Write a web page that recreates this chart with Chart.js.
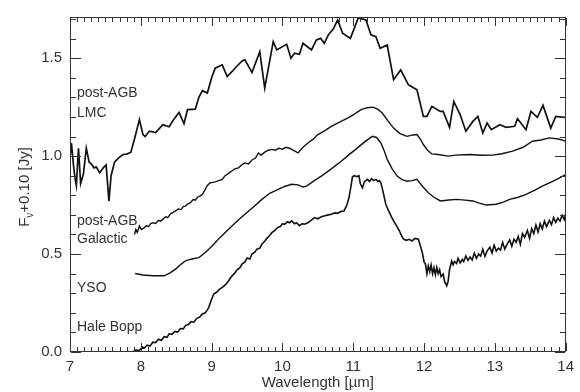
<!DOCTYPE html>
<html>
<head>
<meta charset="utf-8">
<script src="https://cdn.jsdelivr.net/npm/chart.js@4/dist/chart.umd.min.js"></script>
<style>
  html, body { margin: 0; padding: 0; background: #fff; }
  #wrap { width: 580px; height: 392px; }
</style>
</head>
<body>
<div id="wrap"><canvas id="spec"></canvas></div>
<script>
// spectra, flux already offset (F_nu + 0.10, Jy)

const X_TICKS = [7, 8, 9, 10, 11, 12, 13, 14];
const Y_TICKS = [0, 0.5, 1.0, 1.5];

const lmcWave = [7.00, 7.02, 7.05, 7.07, 7.09, 7.12, 7.15, 7.19, 7.23, 7.27, 7.30, 7.34, 7.37, 7.42, 7.47, 7.51, 7.55, 7.58, 7.63, 7.70, 7.75, 7.80, 7.86, 7.92, 7.98, 8.03, 8.06, 8.12, 8.21, 8.31, 8.40, 8.47, 8.54, 8.61, 8.66, 8.77, 8.82, 8.87, 8.94, 9.00, 9.05, 9.15, 9.22, 9.29, 9.36, 9.43, 9.47, 9.57, 9.68, 9.75, 9.87, 9.92, 10.06, 10.12, 10.17, 10.24, 10.29, 10.41, 10.48, 10.54, 10.59, 10.65, 10.72, 10.78, 10.85, 10.96, 11.07, 11.18, 11.25, 11.32, 11.38, 11.48, 11.57, 11.67, 11.78, 11.90, 11.99, 12.04, 12.11, 12.23, 12.27, 12.36, 12.42, 12.51, 12.59, 12.69, 12.76, 12.83, 12.89, 12.95, 13.07, 13.16, 13.28, 13.32, 13.44, 13.51, 13.60, 13.68, 13.79, 13.86, 13.98, 14.00];
const lmcFlux = [0.99, 1.067, 0.95, 0.89, 0.85, 1.04, 0.86, 0.91, 1.04, 0.97, 0.96, 0.94, 0.945, 0.915, 0.94, 0.955, 0.77, 0.90, 0.97, 0.995, 1.008, 1.01, 1.02, 1.10, 1.186, 1.11, 1.10, 1.127, 1.12, 1.16, 1.15, 1.19, 1.223, 1.166, 1.237, 1.24, 1.30, 1.334, 1.322, 1.40, 1.449, 1.466, 1.406, 1.432, 1.46, 1.486, 1.491, 1.427, 1.533, 1.347, 1.584, 1.542, 1.571, 1.50, 1.525, 1.52, 1.576, 1.542, 1.593, 1.601, 1.576, 1.62, 1.65, 1.695, 1.627, 1.601, 1.705, 1.695, 1.619, 1.61, 1.55, 1.567, 1.39, 1.44, 1.364, 1.339, 1.203, 1.203, 1.254, 1.228, 1.228, 1.147, 1.279, 1.212, 1.127, 1.177, 1.203, 1.118, 1.169, 1.135, 1.16, 1.147, 1.152, 1.191, 1.135, 1.228, 1.198, 1.259, 1.143, 1.203, 1.198, 1.198];

const galWave = [7.91, 7.93, 7.95, 7.98, 8.01, 8.05, 8.08, 8.11, 8.14, 8.17, 8.21, 8.25, 8.28, 8.31, 8.35, 8.38, 8.42, 8.45, 8.49, 8.53, 8.57, 8.60, 8.63, 8.66, 8.70, 8.74, 8.77, 8.80, 8.84, 8.87, 8.91, 8.94, 8.98, 9.02, 9.06, 9.10, 9.15, 9.19, 9.24, 9.29, 9.33, 9.38, 9.43, 9.47, 9.52, 9.57, 9.62, 9.66, 9.70, 9.75, 9.80, 9.85, 9.90, 9.95, 10.00, 10.05, 10.10, 10.15, 10.22, 10.29, 10.36, 10.43, 10.50, 10.60, 10.69, 10.80, 10.92, 11.00, 11.11, 11.20, 11.28, 11.35, 11.41, 11.49, 11.57, 11.66, 11.76, 11.84, 11.90, 11.95, 11.99, 12.05, 12.11, 12.20, 12.34, 12.45, 12.65, 12.80, 12.97, 13.10, 13.25, 13.40, 13.53, 13.65, 13.77, 13.90, 14.00];
const galFlux = [0.60, 0.625, 0.61, 0.643, 0.625, 0.635, 0.645, 0.64, 0.655, 0.66, 0.656, 0.672, 0.668, 0.677, 0.69, 0.686, 0.705, 0.711, 0.72, 0.73, 0.727, 0.742, 0.745, 0.755, 0.762, 0.778, 0.775, 0.79, 0.797, 0.805, 0.83, 0.85, 0.864, 0.866, 0.87, 0.875, 0.881, 0.90, 0.912, 0.925, 0.935, 0.94, 0.957, 0.965, 0.96, 0.98, 0.99, 1.016, 1.005, 1.02, 1.03, 1.034, 1.03, 1.04, 1.035, 1.045, 1.04, 1.03, 1.016, 1.045, 1.067, 1.085, 1.11, 1.13, 1.152, 1.172, 1.194, 1.21, 1.237, 1.247, 1.25, 1.238, 1.22, 1.18, 1.143, 1.115, 1.101, 1.108, 1.11, 1.085, 1.059, 1.03, 1.011, 1.008, 1.0, 1.005, 1.008, 1.004, 1.005, 1.012, 1.025, 1.045, 1.076, 1.082, 1.093, 1.087, 1.076];

const ysoWave = [7.92, 8.03, 8.17, 8.33, 8.42, 8.49, 8.56, 8.63, 8.72, 8.82, 8.92, 9.01, 9.12, 9.24, 9.35, 9.47, 9.59, 9.71, 9.82, 9.94, 10.03, 10.13, 10.22, 10.29, 10.34, 10.45, 10.55, 10.69, 10.83, 10.95, 11.06, 11.17, 11.27, 11.33, 11.39, 11.44, 11.48, 11.55, 11.62, 11.69, 11.76, 11.83, 11.90, 11.98, 12.06, 12.14, 12.23, 12.35, 12.46, 12.58, 12.69, 12.78, 12.88, 13.02, 13.12, 13.21, 13.33, 13.44, 13.56, 13.67, 13.84, 14.00];
const ysoFlux = [0.401, 0.393, 0.389, 0.389, 0.405, 0.423, 0.445, 0.465, 0.475, 0.482, 0.51, 0.542, 0.585, 0.627, 0.665, 0.703, 0.74, 0.779, 0.81, 0.83, 0.845, 0.856, 0.853, 0.842, 0.847, 0.875, 0.898, 0.935, 0.974, 1.01, 1.042, 1.075, 1.101, 1.095, 1.067, 1.025, 0.983, 0.935, 0.898, 0.88, 0.872, 0.875, 0.881, 0.845, 0.813, 0.79, 0.771, 0.776, 0.779, 0.775, 0.771, 0.76, 0.75, 0.754, 0.765, 0.779, 0.79, 0.805, 0.825, 0.847, 0.875, 0.906];

const hbWave = [7.75, 7.82, 7.88, 7.93, 7.98, 8.02, 8.05, 8.09, 8.13, 8.17, 8.21, 8.25, 8.29, 8.33, 8.37, 8.40, 8.44, 8.48, 8.52, 8.56, 8.60, 8.63, 8.67, 8.71, 8.75, 8.79, 8.83, 8.87, 8.91, 8.94, 8.96, 8.99, 9.03, 9.07, 9.11, 9.15, 9.20, 9.24, 9.28, 9.32, 9.36, 9.40, 9.43, 9.47, 9.50, 9.54, 9.57, 9.61, 9.64, 9.68, 9.71, 9.75, 9.78, 9.82, 9.85, 9.89, 9.93, 9.97, 10.00, 10.03, 10.07, 10.10, 10.13, 10.17, 10.20, 10.24, 10.28, 10.31, 10.36, 10.40, 10.45, 10.50, 10.55, 10.60, 10.65, 10.69, 10.74, 10.78, 10.83, 10.87, 10.91, 10.94, 10.97, 10.99, 11.02, 11.05, 11.08, 11.10, 11.13, 11.16, 11.18, 11.20, 11.23, 11.26, 11.29, 11.32, 11.35, 11.37, 11.39, 11.42, 11.46, 11.50, 11.54, 11.57, 11.61, 11.65, 11.68, 11.71, 11.75, 11.79, 11.83, 11.87, 11.92, 11.95, 11.98, 12.00, 12.02, 12.04, 12.06, 12.08, 12.10, 12.12, 12.14, 12.16, 12.18, 12.20, 12.22, 12.24, 12.27, 12.29, 12.32, 12.34, 12.36, 12.39, 12.41, 12.43, 12.46, 12.48, 12.51, 12.54, 12.56, 12.59, 12.62, 12.65, 12.68, 12.71, 12.74, 12.77, 12.80, 12.83, 12.86, 12.89, 12.93, 12.96, 12.99, 13.02, 13.05, 13.08, 13.11, 13.14, 13.17, 13.21, 13.24, 13.27, 13.30, 13.33, 13.36, 13.39, 13.42, 13.46, 13.49, 13.52, 13.55, 13.58, 13.61, 13.64, 13.67, 13.70, 13.73, 13.77, 13.80, 13.83, 13.86, 13.89, 13.92, 13.95, 13.98, 14.00];
const hbFlux = [0.0, 0.002, 0.0, 0.01, 0.008, 0.025, 0.02, 0.035, 0.03, 0.05, 0.048, 0.065, 0.06, 0.078, 0.075, 0.093, 0.09, 0.105, 0.102, 0.12, 0.118, 0.135, 0.14, 0.155, 0.152, 0.172, 0.178, 0.194, 0.2, 0.215, 0.228, 0.26, 0.296, 0.305, 0.32, 0.33, 0.345, 0.364, 0.385, 0.40, 0.42, 0.43, 0.449, 0.46, 0.48, 0.475, 0.5, 0.51, 0.525, 0.53, 0.55, 0.565, 0.58, 0.595, 0.609, 0.62, 0.635, 0.64, 0.655, 0.652, 0.665, 0.66, 0.669, 0.655, 0.66, 0.645, 0.655, 0.652, 0.66, 0.67, 0.686, 0.68, 0.69, 0.695, 0.70, 0.703, 0.71, 0.708, 0.718, 0.72, 0.75, 0.787, 0.85, 0.895, 0.9, 0.895, 0.9, 0.86, 0.838, 0.87, 0.875, 0.881, 0.87, 0.885, 0.875, 0.881, 0.87, 0.875, 0.864, 0.82, 0.754, 0.72, 0.69, 0.669, 0.645, 0.62, 0.595, 0.576, 0.57, 0.575, 0.567, 0.58, 0.576, 0.54, 0.5, 0.46, 0.449, 0.40, 0.44, 0.41, 0.445, 0.40, 0.43, 0.395, 0.431, 0.40, 0.42, 0.385, 0.398, 0.36, 0.338, 0.36, 0.42, 0.465, 0.445, 0.462, 0.452, 0.478, 0.455, 0.472, 0.462, 0.49, 0.468, 0.485, 0.47, 0.505, 0.478, 0.50, 0.49, 0.525, 0.488, 0.515, 0.535, 0.505, 0.545, 0.515, 0.53, 0.52, 0.56, 0.525, 0.548, 0.572, 0.54, 0.575, 0.56, 0.59, 0.55, 0.605, 0.585, 0.62, 0.58, 0.63, 0.605, 0.648, 0.612, 0.655, 0.628, 0.668, 0.64, 0.672, 0.65, 0.686, 0.662, 0.683, 0.668, 0.698, 0.676, 0.705, 0.688, 0.703];

const LABELS = [
  { lines: ['post-AGB', 'LMC'], y: [1.32, 1.22] },
  { lines: ['post-AGB', 'Galactic'], y: [0.67, 0.575] },
  { lines: ['YSO'], y: [0.325] },
  { lines: ['Hale Bopp'], y: [0.125] },
];

const INK  = '#111111';
const TEXT = '#333333';
const FONT = 'Liberation Sans, Arial, Helvetica, sans-serif';

function pts(w, f) {
  return w.map((x, i) => ({ x, y: f[i] }));
}

function series(w, f, width) {
  return {
    data: pts(w, f),
    borderColor: INK,
    borderWidth: width,
    pointRadius: 0,
    tension: 0,
    fill: false,
  };
}

// IDL-style frame: box with inward ticks on all four sides
const frame = {
  id: 'frame',
  afterDraw(chart) {
    const { ctx, chartArea: a, scales: { x, y } } = chart;
    const L = Math.round(a.left), R = Math.round(a.right) - 1;
    const T = Math.round(a.top), B = Math.round(a.bottom) - 1;
    ctx.save();
    ctx.fillStyle = '#333';
    // box
    ctx.fillRect(L, T, R - L + 1, 1);
    ctx.fillRect(L, B, R - L + 1, 1);
    ctx.fillRect(L, T, 1, B - T + 1);
    ctx.fillRect(R, T, 1, B - T + 1);
    // x ticks, every 0.1 micron
    for (let i = 70; i <= 140; i++) {
      const px = Math.round(x.getPixelForValue(i / 10));
      const len = i % 10 === 0 ? 8 : 4;
      ctx.fillRect(px, B - len, 1, len);
      ctx.fillRect(px, T + 1, 1, len);
    }
    // y ticks, every 0.1 Jy
    for (let i = 0; i <= 17; i++) {
      const py = Math.round(y.getPixelForValue(i / 10));
      const len = i % 5 === 0 ? 10 : 5;
      ctx.fillRect(L + 1, py, len, 1);
      ctx.fillRect(R - len, py, len, 1);
    }

    // curve labels
    ctx.fillStyle = TEXT;
    ctx.font = `14px ${FONT}`;
    ctx.textBaseline = 'middle';
    ctx.textAlign = 'left';
    LABELS.forEach(l => {
      l.lines.forEach((s, k) => ctx.fillText(s, a.left + 7, y.getPixelForValue(l.y[k])));
    });

    // y title with subscript nu
    ctx.translate(24, 187);
    ctx.rotate(-Math.PI / 2);
    ctx.textBaseline = 'alphabetic';
    const parts = [['F', 15, 0], ['\u03BD', 10, 4], ['+0.10 [Jy]', 15, 0]];
    let w = 0;
    parts.forEach(p => { ctx.font = `${p[1]}px ${FONT}`; w += ctx.measureText(p[0]).width; });
    let cx = -w / 2;
    parts.forEach(p => {
      ctx.font = `${p[1]}px ${FONT}`;
      ctx.fillText(p[0], cx, 5 + p[2]);
      cx += ctx.measureText(p[0]).width;
    });
    ctx.restore();
  },
};

new Chart(document.getElementById('spec'), {
  type: 'line',
  data: {
    datasets: [
      series(lmcWave, lmcFlux, 1.7),
      series(galWave, galFlux, 1.4),
      series(ysoWave, ysoFlux, 1.4),
      series(hbWave, hbFlux, 1.6),
    ],
  },
  options: {
    responsive: true,
    maintainAspectRatio: false,
    animation: false,
    layout: { padding: { top: 15, right: 10, left: 0, bottom: 0 } },
    plugins: { legend: { display: false }, tooltip: { enabled: false } },
    scales: {
      x: {
        type: 'linear',
        min: 7,
        max: 14,
        afterBuildTicks: s => { s.ticks = X_TICKS.map(v => ({ value: v })); },
        afterFit: s => { s.height = 40; },
        grid: { display: false, drawTicks: false },
        border: { display: false },
        ticks: { color: TEXT, font: { family: FONT, size: 15 }, padding: 6, maxRotation: 0 },
        title: {
          display: true,
          text: 'Wavelength [\u00B5m]',
          color: TEXT,
          font: { family: FONT, size: 15 },
          padding: { top: 0, bottom: 0 },
        },
      },
      y: {
        type: 'linear',
        min: 0,
        max: 1.71,
        afterBuildTicks: s => { s.ticks = Y_TICKS.map(v => ({ value: v })); },
        afterFit: s => { s.width = 70; },
        grid: { display: false, drawTicks: false },
        border: { display: false },
        ticks: { color: TEXT, font: { family: FONT, size: 15 }, padding: 8, callback: v => v.toFixed(1) },
      },
    },
  },
  plugins: [frame],
});
</script>
</body>
</html>
